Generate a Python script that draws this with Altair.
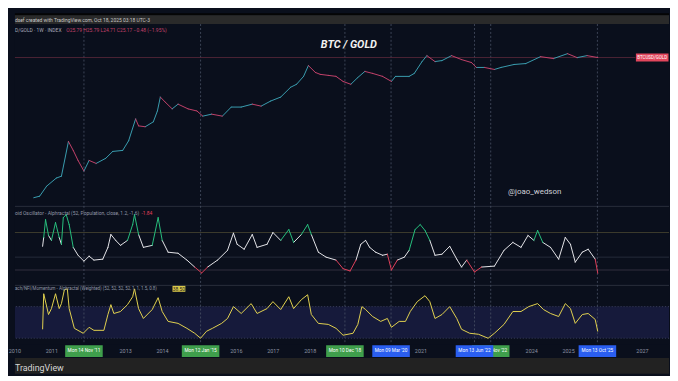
import altair as alt
import pandas as pd
import numpy as np

# ---------------- data ----------------
# BTC / GOLD ratio (weekly, log scale) – decimal years
BTC_T = [2010.51, 2010.67, 2010.86, 2011.12, 2011.26, 2011.45, 2011.58, 2011.71, 2011.87, 2012.01,
         2012.20, 2012.46, 2012.65, 2012.92, 2013.08, 2013.27, 2013.35, 2013.53, 2013.75, 2013.86,
         2013.94, 2014.07, 2014.26, 2014.42, 2014.69, 2014.93, 2015.09, 2015.33, 2015.62, 2015.86,
         2016.13, 2016.43, 2016.67, 2016.93, 2017.20, 2017.47, 2017.63, 2017.82, 2017.95, 2018.14,
         2018.27, 2018.49, 2018.70, 2018.89, 2019.10, 2019.29, 2019.48, 2019.69, 2019.96, 2020.20,
         2020.31, 2020.68, 2020.82, 2021.03, 2021.16, 2021.38, 2021.57, 2021.83, 2022.10, 2022.37,
         2022.50, 2022.72, 2022.99, 2023.17, 2023.52, 2023.84, 2024.24, 2024.59, 2024.97, 2025.23,
         2025.50, 2025.79]
BTC_V = [0.00014, 0.00016, 0.00038, 0.00076, 0.0009, 0.018, 0.0083, 0.0035, 0.0014, 0.0035,
         0.0027, 0.0042, 0.0076, 0.0083, 0.019, 0.126, 0.069, 0.064, 0.098, 0.25,
         0.83, 0.54, 0.30, 0.45, 0.30, 0.25, 0.16, 0.19, 0.16, 0.35,
         0.35, 0.45, 0.38, 0.59, 0.83, 1.94, 2.5, 4.95, 12.6, 6.95,
         5.9, 5.4, 4.95, 3.2, 2.5, 4.5, 7.6, 6.4, 4.95, 3.2,
         4.95, 4.95, 6.4, 17.8, 29.7, 17.8, 19.4, 29.7, 21.1, 16.3,
         10.7, 10.7, 9.0, 10.7, 13.8, 15.0, 27.2, 23.0, 35.2, 25.0,
         29.7, 25.17]

# Oscillator (52, Population, close, 1.2, -1.6)
OSC_T = [2010.75, 2010.78, 2010.83, 2010.91, 2010.99, 2011.10, 2011.20, 2011.26, 2011.31, 2011.39,
         2011.47, 2011.58, 2011.71, 2011.87, 2012.01, 2012.14, 2012.38, 2012.52, 2012.60, 2012.73,
         2012.86, 2013.05, 2013.19, 2013.24, 2013.35, 2013.48, 2013.72, 2013.88, 2013.99, 2014.15,
         2014.42, 2014.66, 2014.87, 2015.06, 2015.22, 2015.49, 2015.76, 2015.92, 2016.02, 2016.21,
         2016.43, 2016.56, 2016.83, 2016.99, 2017.20, 2017.42, 2017.55, 2017.76, 2017.93, 2018.03,
         2018.22, 2018.43, 2018.70, 2018.89, 2019.08, 2019.24, 2019.37, 2019.50, 2019.61, 2019.77,
         2019.96, 2020.09, 2020.20, 2020.36, 2020.55, 2020.68, 2020.84, 2020.98, 2021.11, 2021.24,
         2021.38, 2021.57, 2021.78, 2021.97, 2022.10, 2022.24, 2022.45, 2022.64, 2022.99, 2023.25,
         2023.49, 2023.71, 2023.90, 2024.06, 2024.16, 2024.30, 2024.51, 2024.73, 2024.91, 2025.05,
         2025.18, 2025.37, 2025.53, 2025.72, 2025.79]
OSC_V = [0.17, 0.83, 2.16, 0.98, 0.61, 1.94, 0.83, 0.32, 2.31, 2.53,
         1.79, 0.09, -0.50, -0.94, -0.57, -0.86, -0.79, 0.09, 1.05, 0.61,
         0.24, 0.61, 1.79, 2.53, 1.05, 0.09, 0.24, 2.31, 0.61, -0.27,
         -0.35, -0.86, -1.38, -1.82, -1.38, -0.86, -0.13, 1.15, 0.32, -0.05,
         1.05, 0.09, 0.32, 1.2, 0.61, 1.42, 0.46, 1.05, 1.79, 1.05,
         -0.27, -0.64, -0.86, -1.5, -1.67, -0.86, 0.32, 0.61, 0.09, -0.27,
         -0.50, -0.42, -1.60, -0.86, -0.64, -0.13, 1.42, 1.79, 1.35, 0.61,
         -0.50, -0.42, 0.17, -0.79, -1.38, -0.86, -1.75, -1.38, -1.31, -0.13,
         0.46, 0.09, 0.98, 0.61, 1.35, 0.46, 0.09, -0.79, 0.83, 0.32,
         -1.01, -0.27, -0.05, -0.79, -1.84]
OSC_LEVELS = [1.2, -0.64, -1.6]

# Momentum (Weighted)
MOM_T = [2010.75, 2010.78, 2010.91, 2010.99, 2011.10, 2011.20, 2011.26, 2011.34, 2011.42, 2011.47,
         2011.61, 2011.85, 2012.01, 2012.14, 2012.41, 2012.52, 2012.60, 2012.68, 2012.86, 2013.05,
         2013.19, 2013.24, 2013.35, 2013.48, 2013.72, 2013.88, 2013.99, 2014.15, 2014.42, 2014.66,
         2014.87, 2015.03, 2015.19, 2015.35, 2015.60, 2015.76, 2015.92, 2016.13, 2016.40, 2016.56,
         2016.83, 2016.99, 2017.20, 2017.42, 2017.55, 2017.76, 2017.93, 2018.03, 2018.22, 2018.49,
         2018.70, 2018.89, 2019.16, 2019.29, 2019.40, 2019.50, 2019.69, 2019.91, 2020.09, 2020.20,
         2020.41, 2020.58, 2020.71, 2020.90, 2021.11, 2021.24, 2021.38, 2021.57, 2021.78, 2021.97,
         2022.10, 2022.32, 2022.56, 2022.82, 2022.99, 2023.25, 2023.49, 2023.71, 2023.92, 2024.16,
         2024.32, 2024.51, 2024.73, 2024.91, 2025.05, 2025.18, 2025.37, 2025.53, 2025.72, 2025.79]
MOM_V = [41.3, 86.3, 60.0, 67.5, 86.3, 67.5, 73.8, 91.3, 92.5, 67.5,
         42.5, 36.3, 43.8, 40.0, 40.0, 60.0, 72.5, 61.3, 63.8, 72.5,
         82.5, 92.5, 67.5, 55.0, 66.3, 81.3, 63.8, 51.3, 48.8, 42.5,
         36.3, 30.0, 38.8, 42.5, 48.8, 55.0, 70.0, 61.3, 73.8, 61.3,
         67.5, 76.3, 66.3, 82.5, 67.5, 78.8, 85.0, 60.0, 48.8, 47.5,
         42.5, 33.8, 36.3, 47.5, 70.0, 66.3, 57.5, 51.3, 55.0, 43.8,
         51.3, 51.3, 63.8, 76.3, 83.8, 76.3, 55.0, 60.0, 70.0, 55.0,
         41.3, 36.3, 35.0, 30.0, 36.3, 47.5, 63.8, 63.8, 70.0, 73.8,
         66.3, 61.3, 57.5, 73.8, 67.5, 48.8, 60.0, 61.3, 53.8, 38.5]
MOM_BAND = [70, 30]

# marked dates (green = tops, blue = bottoms)
TOP_T = [2011.87, 2015.03, 2018.94, 2022.89]
TOP_LABEL = ["Mon 14 Nov '11", "Mon 12 Jan '15", "Mon 10 Dec '18", "Mon 21 Nov '22"]
BOT_T = [2020.19, 2022.45, 2025.78]
BOT_LABEL = ["Mon 09 Mar '20", "Mon 13 Jun '22", "Mon 13 Oct '25"]
YEAR_LABELS = [2010, 2011, 2013, 2014, 2016, 2017, 2018, 2021, 2024, 2025, 2027]

# ---------------- styling ----------------
BG = "#0a0f1c"
W = 662
FONT = "Roboto"
XS = alt.Scale(domain=[2010, 2027.72], nice=False, zero=False)
YT = alt.Scale(type="log", domain=[6.95e-5, 454], nice=False)
YO = alt.Scale(domain=[-2.71, 3.19], nice=False, zero=False)
YB = alt.Scale(domain=[22.5, 97.5], nice=False, zero=False)


def X(f):
    return alt.X(f, type="quantitative", scale=XS, axis=None)


one = pd.DataFrame({"a": [0]})
events = pd.DataFrame({"t": TOP_T + BOT_T})
tops = pd.DataFrame({"t": TOP_T, "label": TOP_LABEL})
bots = pd.DataFrame({"t": BOT_T, "label": BOT_LABEL})


def vlines():
    return alt.Chart(events).mark_rule(color="#4a5166", strokeDash=[2, 2], strokeWidth=0.8).encode(x=X("t"))


def txt(s, x, y, size=5, color="#9aa0b0", **kw):
    return alt.Chart(pd.DataFrame({"s": [s]})).mark_text(
        align=kw.pop("align", "left"), baseline="middle", fontSize=size, font=FONT, color=color, **kw
    ).encode(x=alt.value(x), y=alt.value(y), text="s:N")


def segs(t, v):
    return pd.DataFrame({"t": t[:-1], "t2": t[1:], "v": v[:-1], "v2": v[1:]})


def seg_layer(df, ys, color, w=1.0):
    return alt.Chart(df).mark_rule(strokeWidth=w, strokeCap="round", color=color).encode(
        x=X("t"), x2="t2", y=alt.Y("v:Q", scale=ys, axis=None), y2="v2")


# header
hdr_black = alt.Chart(one).mark_point(opacity=0).encode(x=alt.value(0), y=alt.value(0)).properties(
    width=W, height=2, view=alt.ViewBackground(fill="#050505", stroke=None))
hdr = txt("dsef created with TradingView.com, Oct 18, 2025 03:18 UTC-3", 0, 4.5, 5, "#c9c9c9").properties(
    width=W, height=9, view=alt.ViewBackground(fill="#2a2a2a", stroke=None))

# top pane
btc_seg = segs(BTC_T, BTC_V)
up = btc_seg[btc_seg["v2"] >= btc_seg["v"]]
down = btc_seg[btc_seg["v2"] < btc_seg["v"]]
last = pd.DataFrame({"v": [BTC_V[-1]], "s": ["BTCUSD/GOLD"]})

top = alt.layer(
    vlines(),
    alt.Chart(last).mark_rule(color="#5e2a3c", strokeWidth=0.8).encode(
        y=alt.Y("v:Q", scale=YT, axis=None), x=alt.value(0), x2=alt.value(628)),
    seg_layer(up, YT, "#3a9db0", 1.0),
    seg_layer(down, YT, "#c2416a", 1.0),
    alt.Chart(last).mark_tick(color="#e2465c", thickness=8, size=33, opacity=1, orient="horizontal").encode(
        y=alt.Y("v:Q", scale=YT, axis=None), x=alt.value(645)),
    alt.Chart(last).mark_text(fontSize=4.5, font=FONT, color="#ffffff", baseline="middle").encode(
        y=alt.Y("v:Q", scale=YT, axis=None), x=alt.value(645), text="s:N"),
    txt("D/GOLD · 1W · INDEX", 0, 6, 5, "#a8a8b8"),
    txt("O25.79  H25.79  L24.71  C25.17  −0.48 (−1.95%)", 52, 6, 5, "#c2416a"),
    txt("BTC / GOLD", 338, 21, 11, "#f2f2f2", align="center", fontStyle="italic", fontWeight="bold"),
    txt("@joao_wedson", 526, 170, 8, "#cfd0d8", align="center"),
).properties(width=W, height=184, view=alt.ViewBackground(fill=BG, stroke=None))

# middle pane (oscillator)
osc_seg = segs(OSC_T, OSC_V)
hi = np.maximum(osc_seg["v"], osc_seg["v2"])
lo = np.minimum(osc_seg["v"], osc_seg["v2"])
osc_hi = osc_seg[hi > 1.3]
osc_lo = osc_seg[(lo < -1.45) & ~(hi > 1.3)]
osc_mid = osc_seg[~(hi > 1.3) & ~(lo < -1.45)]


def level(v, color):
    return alt.Chart(pd.DataFrame({"v": [v]})).mark_rule(strokeWidth=0.8, color=color).encode(
        y=alt.Y("v:Q", scale=YO, axis=None))


mid = alt.layer(
    level(OSC_LEVELS[0], "#4a4732"),
    level(OSC_LEVELS[1], "#2d3242"),
    level(OSC_LEVELS[2], "#3b3748"),
    alt.Chart(one).mark_rule(color="#2a2f3c", strokeWidth=1).encode(y=alt.value(0.5)),
    vlines(),
    seg_layer(osc_mid, YO, "#e6e6ea"),
    seg_layer(osc_hi, YO, "#27c07e"),
    seg_layer(osc_lo, YO, "#e0405a"),
    txt("oid Oscillator - Alphractal (52, Population, close, 1.2, -1.6)", 0, 7, 5, "#9298a8"),
    txt("-1.84", 128, 7, 5, "#e0405a"),
).properties(width=W, height=80, view=alt.ViewBackground(fill=BG, stroke=None))

# bottom pane (momentum)
mom = pd.DataFrame({"t": MOM_T, "v": MOM_V})
band = pd.DataFrame({"a": [MOM_BAND[0]], "b": [MOM_BAND[1]]})
band_lines = pd.DataFrame({"v": MOM_BAND})
bot = alt.layer(
    alt.Chart(band).mark_rect(color="#161a3b").encode(y=alt.Y("a:Q", scale=YB, axis=None), y2="b"),
    alt.Chart(band_lines).mark_rule(color="#444a66", strokeDash=[1, 2], strokeWidth=0.8).encode(
        y=alt.Y("v:Q", scale=YB, axis=None)),
    alt.Chart(one).mark_rule(color="#2a2f3c", strokeWidth=1).encode(y=alt.value(0.5)),
    vlines(),
    alt.Chart(mom).mark_line(color="#e3d24f", strokeWidth=1.0).encode(
        x=X("t"), y=alt.Y("v:Q", scale=YB, axis=None)),
    txt("ach/NFI/Momentum - Alphractal (Weighted) (52, 52, 52, 52, 1, 1, 1.5, 0.8)", 0, 4, 4.5, "#9298a8"),
    alt.Chart(one).mark_tick(color="#d9c84a", thickness=6, size=13, opacity=1, orient="horizontal").encode(
        x=alt.value(166), y=alt.value(4)),
    txt("38.50", 166, 4, 5, "#1a1a1a", align="center"),
).properties(width=W, height=60, view=alt.ViewBackground(fill=BG, stroke=None))

# time axis strip
years = pd.DataFrame({"t": YEAR_LABELS, "s": [str(y) for y in YEAR_LABELS]})


def event_boxes(df, color):
    return [
        alt.Chart(df).mark_tick(thickness=38, size=12, opacity=1, color=color, orient="vertical").encode(
            x=X("t"), y=alt.value(7)),
        alt.Chart(df).mark_text(fontSize=4.8, font=FONT, color="#ffffff", baseline="middle").encode(
            x=X("t"), y=alt.value(7), text="label:N"),
    ]


axis_strip = alt.layer(
    alt.Chart(years).mark_text(fontSize=5.5, font=FONT, color="#8c92a2", baseline="middle").encode(
        x=X("t"), y=alt.value(7), text="s:N"),
    *event_boxes(tops, "#3f9f4c"),
    *event_boxes(bots, "#2a5ef0"),
).properties(width=W, height=14, view=alt.ViewBackground(fill=BG, stroke=None))

footer = txt("TradingView", 0, 10, 9, "#d6d6d6").properties(
    width=W, height=16, view=alt.ViewBackground(fill="#222222", stroke=None))

chart = alt.vconcat(hdr_black, hdr, top, mid, bot, axis_strip, footer, spacing=0).properties(
    padding=0, background=BG, bounds="flush"
).configure_view(stroke=None).configure_concat(spacing=0)

chart.save("out.html", embed_options={"renderer": "svg", "actions": False})
